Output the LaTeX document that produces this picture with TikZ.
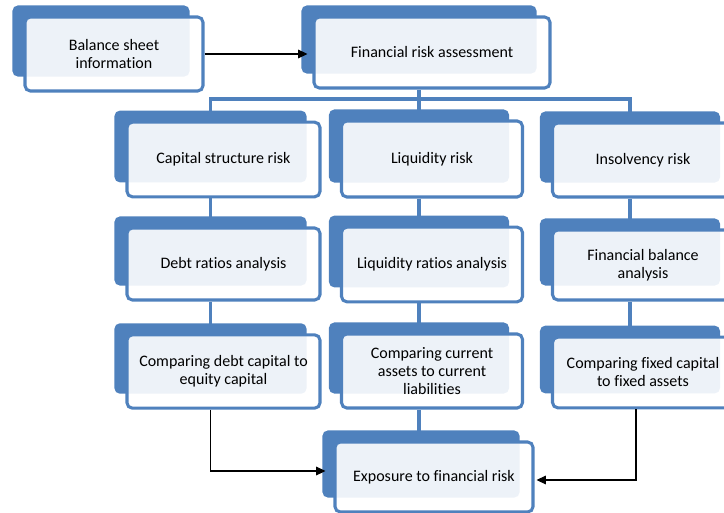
\documentclass[tikz,border=0pt]{standalone}
\usepackage{fontspec}
\setmainfont{Carlito}[Ligatures=NoCommon]
\usetikzlibrary{arrows.meta,backgrounds}
\definecolor{boxblue}{RGB}{79,129,189}
\tikzset{
  riskbox/.style={draw=boxblue, line width=2.3pt, rounded corners=4pt, fill=white, fill opacity=0.9,
    text opacity=1, align=center, font=\fontsize{12}{13.5}\selectfont, inner sep=2pt},
  link/.style={draw=boxblue, line width=2.5pt},
  feed/.style={->, black, line width=0.8pt},
}
\newcommand{\backdx}{-9.75pt}
\begin{document}
\begin{tikzpicture}[x=0.75pt, y=-0.75pt, >={Triangle[length=7pt,width=6.5pt]}]
  \useasboundingbox (0,0) rectangle (724,513);

  \node[riskbox, minimum width=133.5pt, minimum height=55.5pt] (bal) at (114,54)
    {Balance sheet\\ information};
  \node[riskbox, minimum width=177pt, minimum height=53.25pt] (fra) at (432,52.5)
    {Financial risk assessment};

  \node[riskbox, minimum width=144.75pt, minimum height=56pt] (cap) at (223.5,159.5)
    {Capital structure risk};
  \node[riskbox, minimum width=135.75pt, minimum height=57pt] (liq) at (432,159)
    {Liquidity risk};
  \node[riskbox, minimum width=135.75pt, minimum height=55.5pt] (ins) at (643,160)
    {Insolvency risk};

  \node[riskbox, minimum width=144.75pt, minimum height=54pt] (debt) at (223.5,264)
    {Debt ratios analysis};
  \node[riskbox, minimum width=135.75pt, minimum height=56pt] (lra) at (432,264.5)
    {Liquidity ratios analysis};
  \node[riskbox, minimum width=135.75pt, minimum height=52.5pt] (fba) at (643,265)
    {Financial balance\\ analysis};

  \node[riskbox, minimum width=144.75pt, minimum height=55pt] (cdc) at (223.5,371.5)
    {Comparing debt capital to\\ equity capital};
  \node[riskbox, minimum width=135.75pt, minimum height=55.5pt] (cca) at (432,371)
    {Comparing current\\ assets to current\\ liabilities};
  \node[riskbox, minimum width=135.75pt, minimum height=53pt] (cfc) at (643,372.5)
    {Comparing fixed capital\\ to fixed assets};

  \node[riskbox, minimum width=148.5pt, minimum height=52.5pt] (exp) at (434,477)
    {Exposure to financial risk};

  % blue blocks behind each box
  \begin{scope}[on background layer]
    \foreach \n in {bal,fra,cap,liq,ins,debt,lra,fba,cdc,cca,cfc,exp}
      \fill[boxblue, rounded corners=4pt] ([xshift=-8.25pt,yshift=7.5pt]\n.north west)
        rectangle ([xshift=-11.25pt,yshift=12pt]\n.south east);
  \end{scope}

  \coordinate (bus) at (0,99);
  \draw[feed] (bal.east) -- ([xshift=-3.75pt]fra.west |- bal.east);
  \draw[link] ([xshift=\backdx]fra.south) -- ([xshift=\backdx]liq.north);
  \draw[link] ([xshift=\backdx]cap.north) -- ([xshift=\backdx]cap.north |- bus)
    -- ([xshift=\backdx]ins.north |- bus) -- ([xshift=\backdx]ins.north);
  \draw[link] ([xshift=\backdx]cap.south) -- ([xshift=\backdx]debt.north);
  \draw[link] ([xshift=\backdx]liq.south) -- ([xshift=\backdx]lra.north);
  \draw[link] ([xshift=\backdx]ins.south) -- ([xshift=\backdx]fba.north);
  \draw[link] ([xshift=\backdx]debt.south) -- ([xshift=\backdx]cdc.north);
  \draw[link] ([xshift=\backdx]lra.south) -- ([xshift=\backdx]cca.north);
  \draw[link] ([xshift=\backdx]fba.south) -- ([xshift=\backdx]cfc.north);
  \draw[link] ([xshift=\backdx]cca.south) -- ([xshift=\backdx]cca.south |- exp.north);
  \draw[feed] ([xshift=\backdx]cdc.south) |- ([xshift=-6pt,yshift=4.5pt]exp.west);
  \draw[feed] ([xshift=-5.25pt]cfc.south) |- ([xshift=1.5pt,yshift=-2.25pt]exp.east);
\end{tikzpicture}
\end{document}
